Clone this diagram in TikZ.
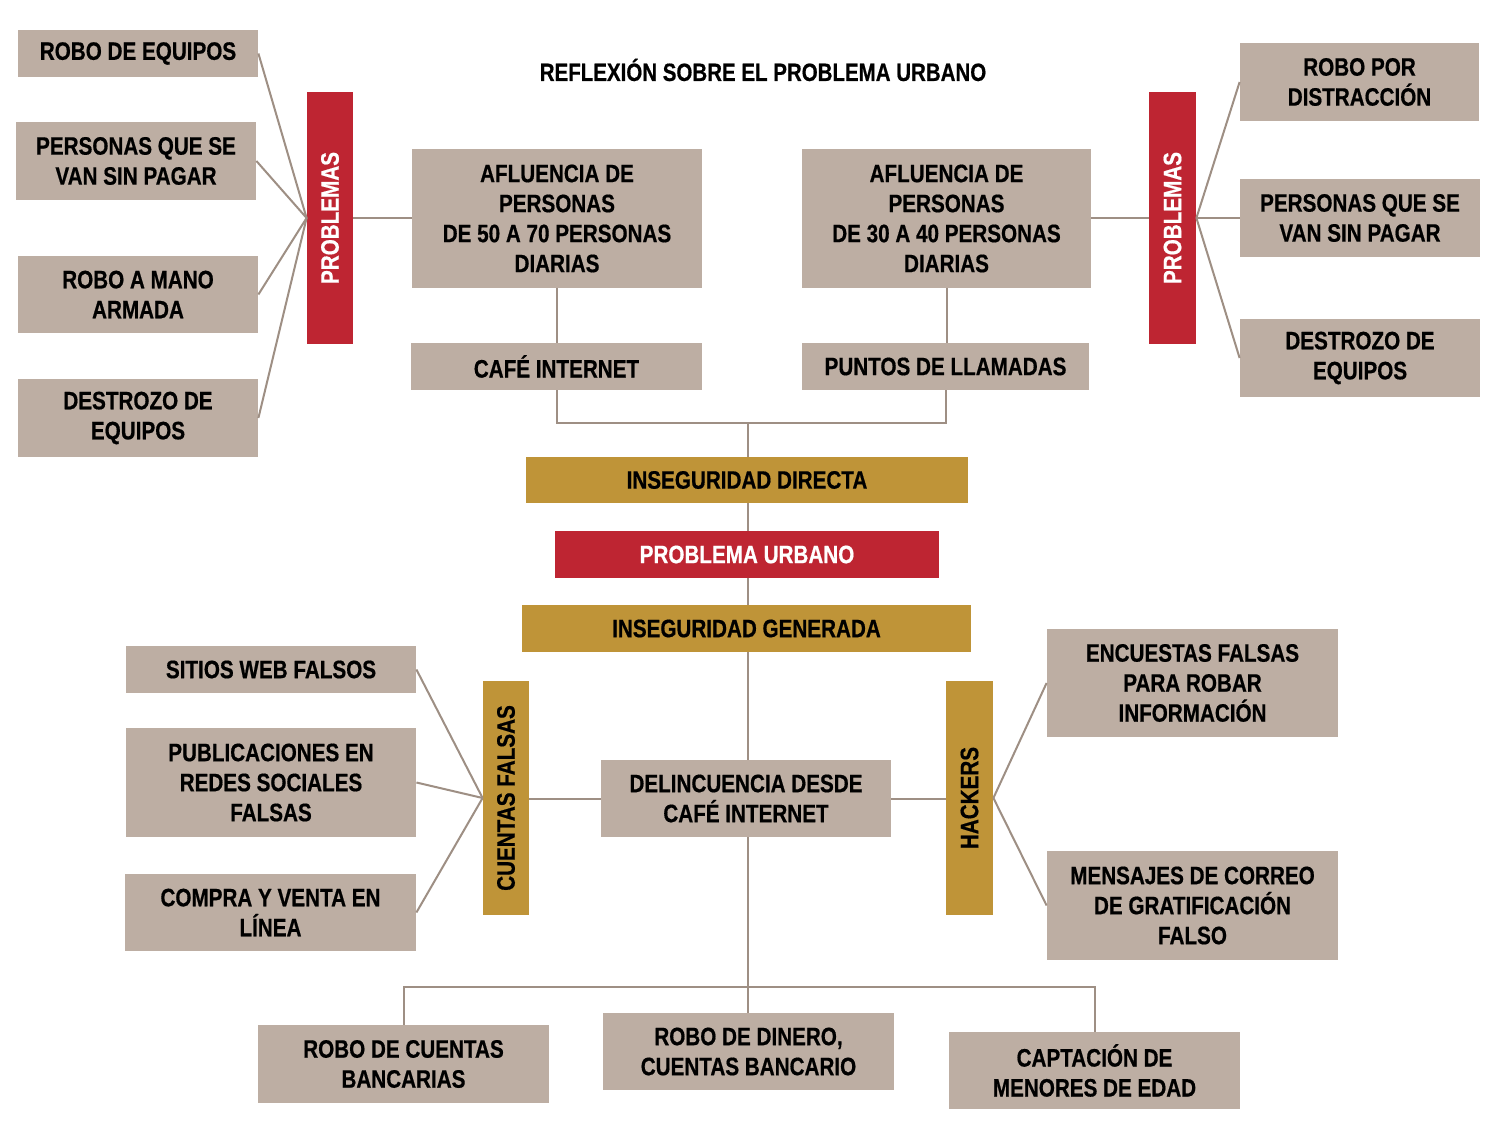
\documentclass[tikz,border=0pt]{standalone}
\usepackage{fontspec}
\newfontfamily\nar{Liberation Sans Bold}[FakeStretch=0.82,FakeBold=0.6]
\definecolor{taupe}{RGB}{189,174,163}
\definecolor{rojo}{RGB}{190,37,50}
\definecolor{oro}{RGB}{191,148,56}
\definecolor{linea}{RGB}{158,143,132}
\tikzset{
  sz/.style 2 args={minimum width=#1*0.5pt,minimum height=#2*0.5pt},
  basebox/.style={inner sep=0pt,align=center,font=\nar\fontsize{12.6}{15}\selectfont},
  tbox/.style={basebox,fill=taupe,text=black},
  rbox/.style={basebox,fill=rojo,text=white},
  gbox/.style={basebox,fill=oro,text=black},
  conn/.style={draw=linea,line width=1pt}
}
\begin{document}
\begin{tikzpicture}[x=0.5pt,y=-0.5pt]
\useasboundingbox[fill=white] (0,0) rectangle (1503,1127);
\node[font=\nar\fontsize{12.5}{14}\selectfont] (title) at (763,70) {REFLEXIÓN SOBRE EL PROBLEMA URBANO};
% left problems
\node[tbox,sz={240}{47}] (l1) at (138,53.5) {ROBO DE EQUIPOS};
\node[tbox,sz={240}{78}] (l2) at (136,161) {PERSONAS QUE SE\\VAN SIN PAGAR};
\node[tbox,sz={240}{77}] (l3) at (138,294.5) {ROBO A MANO\\ARMADA};
\node[tbox,sz={240}{78}] (l4) at (138,418) {DESTROZO DE\\EQUIPOS};
\node[rbox,sz={46}{252}] (pl) at (330,218) {\rotatebox{90}{PROBLEMAS}};
% afluencias
\node[tbox,sz={290}{139}] (a1) at (557,218.5) {AFLUENCIA DE\\PERSONAS\\DE 50 A 70 PERSONAS\\DIARIAS};
\node[tbox,sz={289}{139}] (a2) at (946.5,218.5) {AFLUENCIA DE\\PERSONAS\\DE 30 A 40 PERSONAS\\DIARIAS};
\node[tbox,sz={291}{47}] (cafe) at (556.5,366.5) {CAFÉ INTERNET};
\node[tbox,sz={287}{47}] (puntos) at (945.5,366.5) {PUNTOS DE LLAMADAS};
% right problems
\node[rbox,sz={47}{252}] (pr) at (1172.5,218) {\rotatebox{90}{PROBLEMAS}};
\node[tbox,sz={239}{78}] (r1) at (1359.5,82) {ROBO POR\\DISTRACCIÓN};
\node[tbox,sz={240}{78}] (r2) at (1360,218) {PERSONAS QUE SE\\VAN SIN PAGAR};
\node[tbox,sz={240}{78}] (r3) at (1360,358) {DESTROZO DE\\EQUIPOS};
% center
\node[gbox,sz={442}{46}] (id) at (747,480) {INSEGURIDAD DIRECTA};
\node[rbox,sz={384}{47}] (pu) at (747,554.5) {PROBLEMA URBANO};
\node[gbox,sz={449}{47}] (ig) at (746.5,628.5) {INSEGURIDAD GENERADA};
\node[tbox,sz={290}{77}] (del) at (746,798.5) {DELINCUENCIA DESDE\\CAFÉ INTERNET};
% cuentas falsas
\node[gbox,sz={46}{234}] (cf) at (506,798) {\rotatebox{90}{CUENTAS FALSAS}};
\node[tbox,sz={290}{47}] (s1) at (271,669.5) {SITIOS WEB FALSOS};
\node[tbox,sz={290}{109}] (s2) at (271,782.5) {PUBLICACIONES EN\\REDES SOCIALES\\FALSAS};
\node[tbox,sz={291}{77}] (s3) at (270.5,912.5) {COMPRA Y VENTA EN\\LÍNEA};
% hackers
\node[gbox,sz={47}{234}] (hk) at (969.5,798) {\rotatebox{90}{HACKERS}};
\node[tbox,sz={291}{108}] (e1) at (1192.5,683) {ENCUESTAS FALSAS\\PARA ROBAR\\INFORMACIÓN};
\node[tbox,sz={291}{109}] (e2) at (1192.5,905.5) {MENSAJES DE CORREO\\DE GRATIFICACIÓN\\FALSO};
% bottom
\node[tbox,sz={291}{78}] (b1) at (403.5,1064) {ROBO DE CUENTAS\\BANCARIAS};
\node[tbox,sz={291}{77}] (b2) at (748.5,1051.5) {ROBO DE DINERO,\\CUENTAS BANCARIO};
\node[tbox,sz={291}{77}] (b3) at (1094.5,1070.5) {CAPTACIÓN DE\\MENORES DE EDAD};
% junctions
\coordinate (j1) at (748,423);
\coordinate (j2) at (748,987);
% connectors
\foreach \n in {l1,l2,l3,l4} \draw[conn] (\n.east) -- (pl.west);
\draw[conn] (pl.east) -- (a1.west |- pl.east);
\draw[conn] (a2.east |- pr.west) -- (pr.west);
\foreach \n in {r1,r2,r3} \draw[conn] (pr.east) -- (\n.west);
\draw[conn] (a1.south) -- (cafe.north -| a1.south);
\draw[conn] (a2.south) -- (puntos.north -| a2.south);
\draw[conn] (cafe.south) |- (j1) -| (puntos.south);
\draw[conn] (j1) -- (j1 |- id.north);
\draw[conn] (j1 |- id.south) -- (j1 |- pu.north);
\draw[conn] (j1 |- pu.south) -- (j1 |- ig.north);
\draw[conn] (j1 |- ig.south) -- (j1 |- del.north);
\draw[conn] (del.west) -- (cf.east |- del.west);
\foreach \n in {s1,s2,s3} \draw[conn] (\n.east) -- (cf.west);
\draw[conn] (del.east) -- (hk.west |- del.east);
\foreach \n in {e1,e2} \draw[conn] (hk.east) -- (\n.west);
\draw[conn] (j2 |- del.south) -- (j2 |- b2.north);
\draw[conn] (b1.north) |- (j2) -| (b3.north);
\end{tikzpicture}
\end{document}
